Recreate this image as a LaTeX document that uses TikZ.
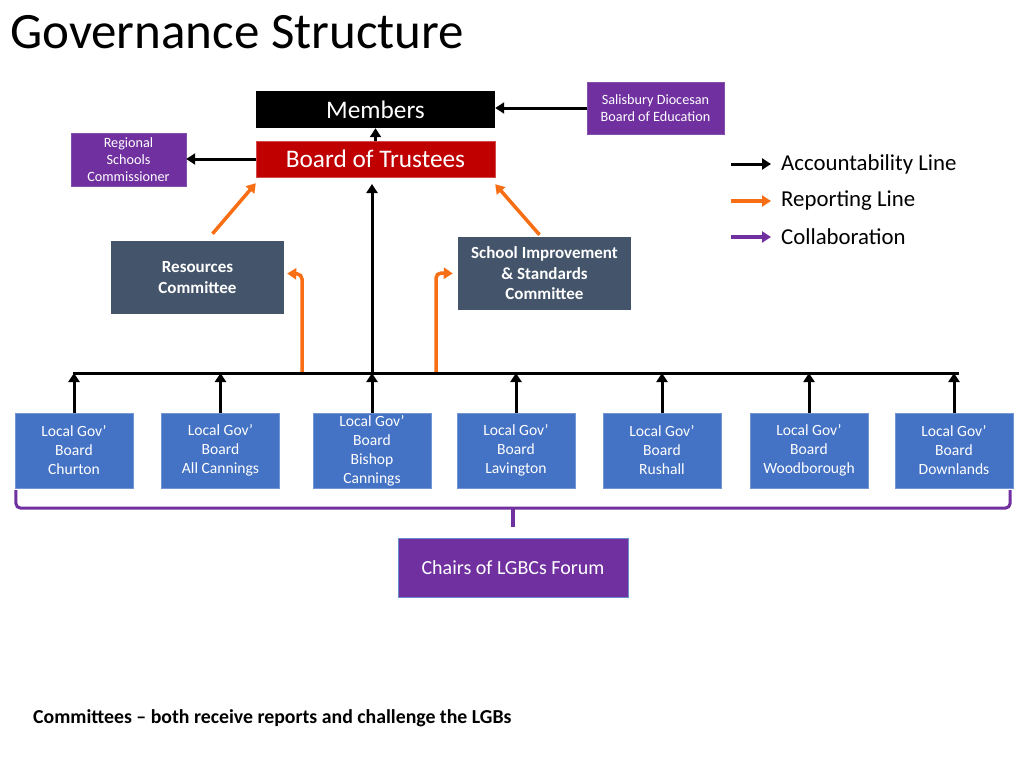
\documentclass[tikz,border=0pt]{standalone}
\usepackage{fontspec}
\setmainfont{Carlito}
\usetikzlibrary{arrows.meta,positioning,calc}
\definecolor{govpurple}{RGB}{112,48,160}
\definecolor{govred}{RGB}{192,0,0}
\definecolor{govblue}{RGB}{68,114,196}
\definecolor{govslate}{RGB}{68,84,106}
\definecolor{govorange}{RGB}{247,110,20}

\begin{document}
\begin{tikzpicture}[x=1pt,y=-1pt,
    box/.style={inner sep=0pt,align=center,text=white},
    purplebox/.style={box,fill=govpurple,draw=govpurple!85!white,font=\fontsize{14.2}{17}\selectfont},
    cttee/.style={box,fill=govslate,minimum width=173pt,minimum height=73pt,font=\bfseries\fontsize{17}{20.5}\selectfont},
    lgb/.style={box,fill=govblue,draw=govblue!75!white,minimum width=118pt,minimum height=75pt,font=\fontsize{15.6}{19}\selectfont},
    acc/.style={line width=3pt,-{Triangle[length=9pt,width=11pt]}},
    rep/.style={line width=3.5pt,govorange,-{Triangle[length=9pt,width=11pt]}},
    collab/.style={line width=3.5pt,govpurple,-{Triangle[length=9pt,width=11pt]}},
    brace/.style={line width=3pt,govpurple,rounded corners=5pt},
    legend/.style={anchor=west,inner sep=0pt,font=\fontsize{22.8}{26}\selectfont}]
  \fill[white] (0,0) rectangle (1024,768);
  \useasboundingbox (0,0) rectangle (1024,768);

  \node[anchor=west,inner sep=0pt,font=\fontsize{51}{56}\selectfont] (title) at (10,32) {Governance Structure};

  % top of the structure
  \node[box,fill=black,minimum width=239pt,minimum height=37pt,font=\fontsize{25.3}{28}\selectfont] (members) at (375.5,109.5) {Members};
  \node[box,fill=govred,draw=govred!70!white,minimum width=239pt,minimum height=36pt,font=\fontsize{25.3}{28}\selectfont] (trustees) at (375.5,159) {Board of Trustees};
  \node[purplebox,minimum width=137pt,minimum height=52pt] (diocese) at (655.5,108) {Salisbury Diocesan\\Board of Education};
  \node[purplebox,minimum width=115pt,minimum height=53pt] (rsc) at (128.5,159.5) {Regional\\Schools\\Commissioner};

  \draw[acc] (diocese.west) -- (diocese.west -| members.east);
  \draw[acc] (trustees.west) -- (trustees.west -| rsc.east);
  \draw[acc] (trustees.north) -- (members.south);

  % committees
  \node[cttee] (resources) at (197.5,277.5) {Resources\\Committee};
  \node[cttee] (standards) at (544.5,273.5) {School Improvement\\\& Standards\\Committee};

  \draw[rep] ([xshift=15pt,yshift=7pt]resources.north) -- ([yshift=-6pt]trustees.south west);
  \draw[rep] ([xshift=-5pt,yshift=2pt]standards.north) -- ([yshift=-7pt]trustees.south east);

  % local governing boards
  \foreach \name/\x/\txt in {churton/74/Churton,allc/220.5/All Cannings,bishop/372/Bishop\\Cannings,lav/516/Lavington,rush/662/Rushall,wood/809/Woodborough,down/954/Downlands}
    \node[lgb] (\name) at (\x,450.5) {Local Gov’\\Board\\\txt};

  \coordinate (busL) at (74,373);
  \coordinate (busR) at (957,373);
  \coordinate (repL) at (302,373);
  \coordinate (repR) at (436,373);

  \draw[rep,rounded corners=5pt] (repL) -- (repL |- 0,274) -- ([xshift=3pt,yshift=4pt]resources.east);
  \draw[rep,rounded corners=5pt] (repR) -- (repR |- 0,273) -- ([xshift=-5pt]standards.west);

  \draw[line width=3pt] ([xshift=-1.5pt]busL) -- ([xshift=1.5pt]busR);
  \draw[acc] (bishop.north |- busL) -- (bishop.north |- 0,184);
  \foreach \name in {churton,allc,bishop,lav,rush,wood,down}
    \draw[acc] (\name.north) -- (\name.north |- busL);

  % forum
  \node[box,fill=govpurple,draw=govblue!80!white,minimum width=230pt,minimum height=59pt,font=\fontsize{20}{24}\selectfont] (forum) at (513,567.5) {Chairs of LGBCs Forum};
  \draw[brace] ([xshift=1pt,yshift=-2pt]churton.south west) -- ++(0,18) -| ([xshift=-3pt,yshift=-2pt]down.south east);
  \draw[line width=3.5pt,govpurple] (forum.north |- 0,507) -- ([yshift=11pt]forum.north);

  % legend
  \node[legend] (accTxt) at (781,164) {Accountability Line};
  \node[legend] (repTxt) at (781,201) {Reporting Line};
  \node[legend] (colTxt) at (781,237) {Collaboration};
  \draw[acc] ([xshift=-50pt]accTxt.west) -- ([xshift=-10pt]accTxt.west);
  \draw[rep] ([xshift=-50pt]repTxt.west) -- ([xshift=-10pt]repTxt.west);
  \draw[collab] ([xshift=-50pt]colTxt.west) -- ([xshift=-10pt]colTxt.west);

  \node[anchor=west,inner sep=0pt,font=\bfseries\fontsize{19.8}{23}\selectfont] (note) at (33,718) {Committees – both receive reports and challenge the LGBs};
\end{tikzpicture}
\end{document}
